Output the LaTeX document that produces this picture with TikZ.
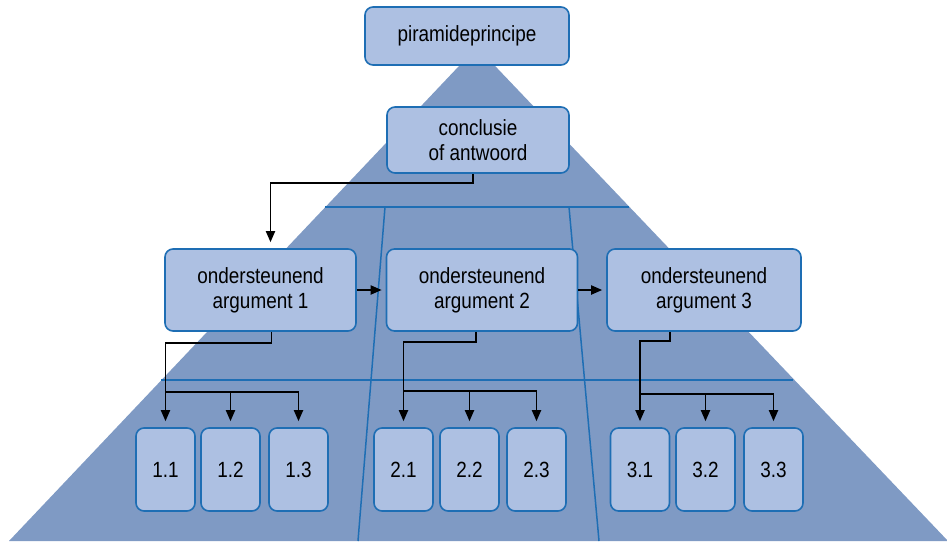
\documentclass[tikz,border=0pt]{standalone}
\usepackage{fontspec}
\setmainfont{Liberation Sans}[FakeStretch=0.86]
\usetikzlibrary{arrows.meta}
\definecolor{pyramid}{RGB}{127,154,196}
\definecolor{boxfill}{RGB}{173,192,226}
\definecolor{boxline}{RGB}{30,110,180}

\begin{document}
\begin{tikzpicture}[x=1pt,y=-1pt]
	\tikzstyle{block}=[draw=boxline,fill=boxfill,line width=1.6pt,rounded corners=8pt,align=center,inner sep=0pt,font=\fontsize{22}{25}\selectfont]
	\tikzstyle{arg}=[block,minimum width=191pt,minimum height=82pt]
	\tikzstyle{point}=[block,minimum width=59pt,minimum height=83pt]
	\tikzstyle{divider}=[draw=boxline,line width=1.5pt]
	\tikzstyle{link}=[line width=1.8pt,-{Triangle[length=11pt,width=9pt]},shorten >=6pt]
	\useasboundingbox (0,0) rectangle (947,541);
	% pyramid and its layers
	\fill [pyramid] (477,47) -- (948,541) -- (9,541) -- cycle;
	\path [divider] (325,207) -- (629,207);
	\path [divider] (161,380) -- (793,380);
	\path [divider] (385,207) -- (358,541);
	\path [divider] (569,207) -- (599,541);
	% blocks
	\node (top) at (467,36) [block,minimum width=204pt,minimum height=58pt] {piramideprincipe};
	\node (concl) at (478,140) [block,minimum width=182pt,minimum height=66pt] {conclusie\\of antwoord};
	\node (arg1) at (260.5,290) [arg] {ondersteunend\\argument 1};
	\node (arg2) at (482,290) [arg] {ondersteunend\\argument 2};
	\node (arg3) at (704,290) [arg,minimum width=194pt] {ondersteunend\\argument 3};
	\node (c11) at (165.5,469.5) [point] {1.1};
	\node (c12) at (230.5,469.5) [point] {1.2};
	\node (c13) at (298.5,469.5) [point] {1.3};
	\node (c21) at (403.5,469.5) [point] {2.1};
	\node (c22) at (469.5,469.5) [point] {2.2};
	\node (c23) at (536.5,469.5) [point] {2.3};
	\node (c31) at (640,469.5) [point] {3.1};
	\node (c32) at (705.5,469.5) [point] {3.2};
	\node (c33) at (773.5,469.5) [point] {3.3};
	% connectors
	\coordinate (fork1) at (0,392);
	\coordinate (fork2) at (0,391);
	\coordinate (fork3) at (0,394);
	\draw [link] ([xshift=-5pt]concl.south) -- ++(0,9) -| ([xshift=10pt]arg1.north);
	\draw [link,shorten >=4pt] (arg1) -- (arg2);
	\draw [link,shorten >=4pt] (arg2) -- (arg3);
	\draw [link] ([xshift=11pt]arg1.south) -- ++(0,11) -| (c11.north);
	\draw [link] (c11.north |- fork1) -| (c13.north);
	\draw [link] (c12.north |- fork1) -- (c12.north);
	\draw [link] ([xshift=-6pt]arg2.south) -- ++(0,10) -| (c21.north);
	\draw [link] (c21.north |- fork2) -| (c23.north);
	\draw [link] (c22.north |- fork2) -- (c22.north);
	\draw [link] ([xshift=-34pt]arg3.south) -- ++(0,9) -| (c31.north);
	\draw [link] (c31.north |- fork3) -| (c33.north);
	\draw [link] (c32.north |- fork3) -- (c32.north);
\end{tikzpicture}
\end{document}
